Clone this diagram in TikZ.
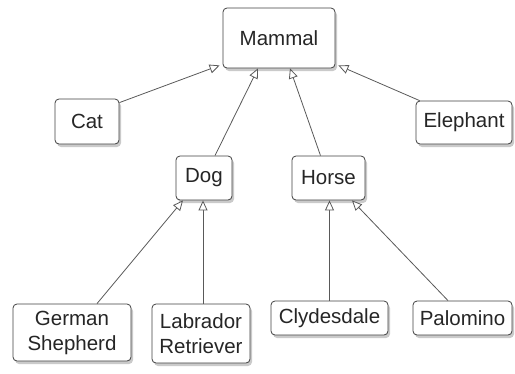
\documentclass[tikz,border=0pt]{standalone}
\usepackage{fontspec}
\setmainfont{Liberation Sans}
\usetikzlibrary{arrows.meta,shadows}
\begin{document}
\begin{tikzpicture}[x=1pt,y=-1pt,
  cls/.style={draw=black!75, line width=0.8pt, rounded corners=4pt, fill=white,
    drop shadow={shadow xshift=2pt, shadow yshift=-3pt, opacity=0.35, fill=black!60},
    inner sep=0pt, align=center, font=\fontsize{20.5}{25}\selectfont, text=black!85},
  gen/.style={draw=black!65, line width=0.8pt,
    -{Triangle[open, length=10pt, width=9pt, fill=white]}}]
\useasboundingbox (0,0) rectangle (515,373);
\node[cls, minimum width=112pt, minimum height=60pt] (mammal) at (279,38) {Mammal};
\node[cls, minimum width=64pt, minimum height=45pt] (cat) at (87,121.5) {Cat};
\node[cls, minimum width=96pt, minimum height=43pt] (elephant) at (464,122.5) {Elephant};
\node[cls, minimum width=56pt, minimum height=44pt] (dog) at (204,178) {Dog};
\node[cls, minimum width=73pt, minimum height=44pt] (horse) at (328.5,178) {Horse};
\node[cls, minimum width=118pt, minimum height=57pt] (gs) at (72,332.5) {German\\Shepherd};
\node[cls, minimum width=98pt, minimum height=59pt] (lab) at (201,333.5) {Labrador\\Retriever};
\node[cls, minimum width=117pt, minimum height=34pt] (clyd) at (329.5,318) {Clydesdale};
\node[cls, minimum width=99pt, minimum height=34pt] (palo) at (462.5,318) {Palomino};
\draw[gen] ([yshift=-4pt]cat.north east) -- ([xshift=-3pt,yshift=3pt]mammal.south west);
\draw[gen] ([xshift=11pt]dog.north) -- ([xshift=-21pt]mammal.south);
\draw[gen] ([xshift=-8pt]horse.north) -- ([xshift=11pt]mammal.south);
\draw[gen] ([xshift=4pt]elephant.north west) -- ([xshift=3pt,yshift=3pt]mammal.south east);
\draw[gen] ([xshift=25pt]gs.north) -- ([xshift=-21pt]dog.south);
\draw[gen] ([xshift=2pt]lab.north) -- ([xshift=2pt]lab.north |- dog.south);
\draw[gen] (clyd.north) -- (clyd.north |- horse.south);
\draw[gen] ([xshift=-14.5pt]palo.north) -- ([xshift=23.5pt]horse.south);
\end{tikzpicture}
\end{document}
